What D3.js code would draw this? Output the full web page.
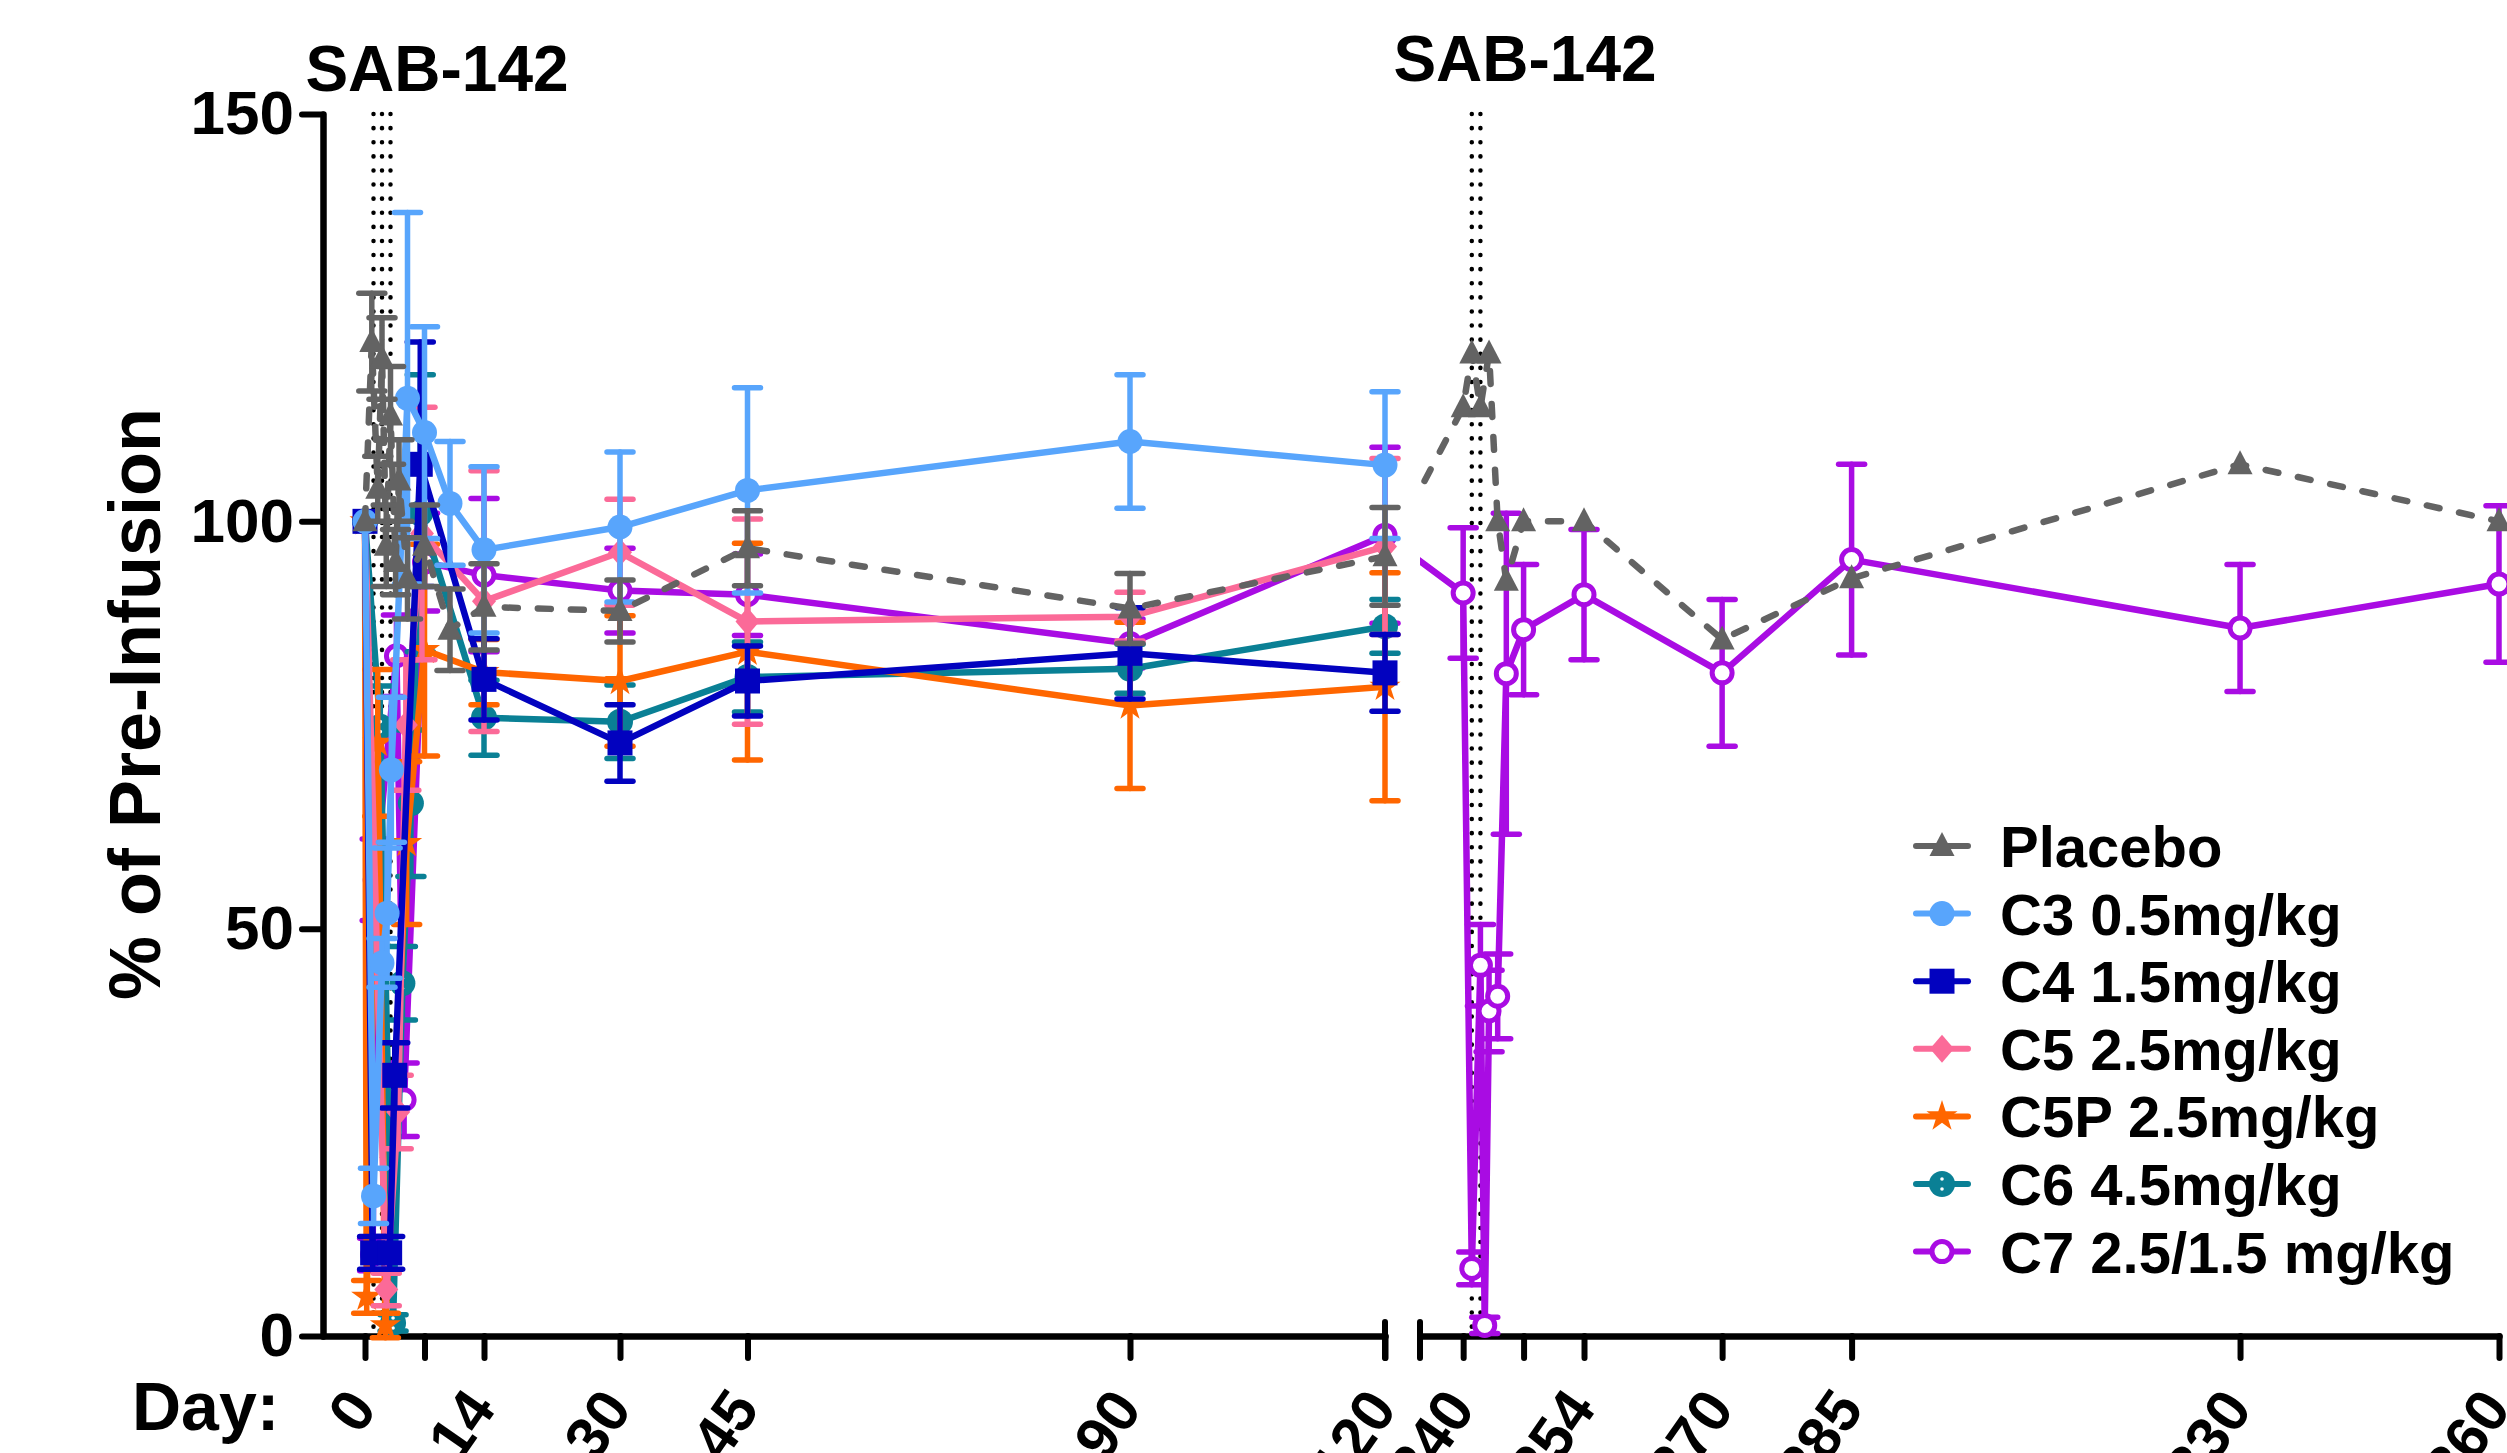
<!DOCTYPE html>
<html>
<head>
<meta charset="utf-8">
<script src="https://cdn.jsdelivr.net/npm/d3@7"></script>
<style>
body { margin: 0; background: #fff; }
svg { display: block; font-family: "Liberation Sans", Arial, sans-serif; font-weight: bold; }
</style>
</head>
<body>
<div id="main"></div>
<script>

var width = 2507,
    height = 1453;

// axis ticks
var yTicks = [0, 50, 100, 150];
var dayTicks1 = [0, 7, 14, 30, 45, 90, 120];
var dayTicks2 = [240, 247, 254, 270, 285, 330, 360];
var hiddenTicks = [7, 247];
var infusionDays = [1, 2, 3, 241, 242];

// series (days, % of pre-infusion, SEM)
var placeboDays = [0, 0.8, 1.5, 2, 2.5, 3, 3.6, 4, 5, 7, 10, 14, 30, 45, 90, 120, 240, 241, 242, 243, 244, 245, 247, 254, 270, 285, 330, 360];
var placeboVals = [100, 122, 104, 120, 97, 113, 95, 105, 93, 97, 86.7, 89.5, 89, 96.7, 89.3, 95.7, 114, 120.6, 114, 120.6, 100, 92.7, 100, 100, 85.5, 93, 107, 100];
var placeboSem  = [0, 6, 4, 5, 5, 6, 4, 5, 5, 5, 5, 5.3, 3.8, 4.6, 4.3, 6, 0, 0, 0, 0, 0, 0, 0, 0, 0, 0, 0, 0];

var c3Days = [0, 1, 2, 2.6, 3.1, 5, 7, 10, 14, 30, 45, 90, 120];
var c3Vals = [100, 17.2, 45.8, 51.9, 69.5, 115.1, 110.9, 102.2, 96.5, 99.3, 103.8, 109.8, 106.9];
var c3Sem  = [0, 3.4, 3, 8, 8.9, 22.8, 13, 7.6, 10.2, 9.2, 12.6, 8.2, 9];

var c4Days = [0, 0.9, 2.9, 3.5, 6.5, 14, 30, 45, 90, 120];
var c4Vals = [100, 10.2, 10.2, 32, 107, 80.6, 72.8, 80.4, 83.8, 81.4];
var c4Sem  = [0, 2, 2, 4, 15, 5, 4.7, 4.3, 5.6, 4.7];

var c5Days = [0, 2.5, 3.9, 4.8, 6.7, 14, 30, 45, 90, 120];
var c5Vals = [100, 5.7, 27.5, 75, 98.5, 90.2, 96.2, 87.7, 88.3, 96.9];
var c5Sem  = [0, 2, 4.5, 8, 15.5, 16, 6.5, 12.6, 3, 10.8];

var c5pDays = [0, 0.2, 1.5, 2.4, 4.9, 7, 14, 30, 45, 90, 120];
var c5pVals = [100, 4.8, 72.8, 1.3, 60.5, 84.2, 81.5, 80.4, 84, 77.4, 79.7];
var c5pSem  = [0, 2, 9, 1.5, 10, 13, 4, 8, 13.3, 10.2, 14];

var c6Days = [0, 1.8, 3.3, 4.4, 5.4, 6.5, 14, 30, 45, 90, 120];
var c6Vals = [100, 74.8, 1.6, 43.3, 65.4, 101, 75.9, 75.4, 80.9, 81.9, 87.1];
var c6Sem  = [0, 5, 1, 4.5, 9, 17, 4.6, 4.5, 4.3, 3, 3.3];

var c7Days = [0, 0.9, 1.2, 3.7, 4.6, 7, 14, 30, 45, 90, 120, 240, 241, 242, 242.5, 243, 244, 245, 247, 254, 270, 285, 330, 360];
var c7Vals = [100, 10, 56, 83.5, 29, 95, 93.4, 91.5, 91, 85, 98.3, 91.2, 8.3, 45.5, 1.3, 39.9, 41.7, 81.3, 86.7, 91, 81.4, 95.3, 86.9, 92.3];
var c7Sem  = [0, 2, 5, 5, 4.5, 6, 9.4, 5.2, 5, 3, 10.8, 8, 2, 5, 1, 5, 5.2, 19.7, 8, 8, 9, 11.7, 7.8, 9.6];

var seriesNames  = ["Placebo", "C3 0.5mg/kg", "C4 1.5mg/kg", "C5 2.5mg/kg", "C5P 2.5mg/kg", "C6 4.5mg/kg", "C7 2.5/1.5 mg/kg"];
var seriesColors = ["#636363", "#58a5fc", "#0202bf", "#fb6a98", "#ff6600", "#0a8095", "#a90ce3"];
var seriesShapes = ["triangle", "circle", "square", "diamond", "star", "circledot", "open"];

var series = [
    [placeboDays, placeboVals, placeboSem],
    [c3Days, c3Vals, c3Sem],
    [c4Days, c4Vals, c4Sem],
    [c5Days, c5Vals, c5Sem],
    [c5pDays, c5pVals, c5pSem],
    [c6Days, c6Vals, c6Sem],
    [c7Days, c7Vals, c7Sem]
].map(function(s, i) {
    return {
        name: seriesNames[i],
        color: seriesColors[i],
        shape: seriesShapes[i],
        dashed: i == 0,
        points: s[0].map(function(d, j) { return { day: d, val: s[1][j], sem: s[2][j] }; })
    };
});


var svg = d3.select("div#main")
    .append("svg")
    .attr("width", width)
    .attr("height", height);

svg.append("rect").attr("width", width).attr("height", height).attr("fill", "#fff");

// two pieces of the broken x axis
var x1 = d3.scaleLinear().domain([-5, 120]).range([322.5, 1385]);
var x2 = d3.scaleLinear().domain([235, 360]).range([1420, 2499]);
var y = d3.scaleLinear().domain([0, 150]).range([1336, 114]);

function xPos(day) {
    return day <= 120.5 ? x1(day) : x2(day);
}

// lines crossing the break are hidden inside the gap
var clip = svg.append("defs").append("clipPath").attr("id", "segs");
clip.append("rect").attr("x", 0).attr("y", 0).attr("width", 1387).attr("height", height);
clip.append("rect").attr("x", 1420).attr("y", 0).attr("width", width - 1420).attr("height", height);


// dotted infusion lines
svg.selectAll(".infusion")
    .data(infusionDays)
    .enter().append("line")
    .attr("class", "infusion")
    .attr("x1", function(d) { return xPos(d); })
    .attr("x2", function(d) { return xPos(d); })
    .attr("y1", y(150))
    .attr("y2", y(0))
    .attr("stroke", "#000")
    .attr("stroke-width", 4.5)
    .attr("stroke-linecap", "round")
    .attr("stroke-dasharray", "0.1 14");

svg.append("text").attr("x", 437).attr("y", 91).attr("text-anchor", "middle")
    .attr("font-size", 64).text("SAB-142");
svg.append("text").attr("x", 1525).attr("y", 81).attr("text-anchor", "middle")
    .attr("font-size", 64).text("SAB-142");


// axes
function styleAxis(g) {
    g.select(".domain").attr("stroke", "#000").attr("stroke-width", 6.5).attr("stroke-linecap", "round");
    g.selectAll(".tick line").attr("stroke", "#000").attr("stroke-width", 6).attr("stroke-linecap", "round");
    g.selectAll(".tick text").attr("fill", "#000").attr("font-family", null).attr("font-weight", "bold");
}

var gy = svg.append("g")
    .attr("transform", "translate(323,0)")
    .call(d3.axisLeft(y).tickValues(yTicks).tickSize(21).tickSizeOuter(0).tickPadding(8));
gy.attr("font-size", 62);
styleAxis(gy);

function dayAxis(scale, ticks) {
    var g = svg.append("g")
        .attr("transform", "translate(0,1336)")
        .call(d3.axisBottom(scale).tickValues(ticks).tickSize(22).tickSizeOuter(0)
              .tickFormat(function(d) { return hiddenTicks.indexOf(d) >= 0 ? "" : d; }));
    g.attr("font-size", 60);
    styleAxis(g);
    g.selectAll(".tick text")
        .attr("x", 0).attr("y", 0).attr("dy", 0)
        .attr("text-anchor", "end")
        .attr("transform", "translate(13,73) rotate(-55)");
    return g;
}

dayAxis(x1, dayTicks1);
dayAxis(x2, dayTicks2);

// break marks
svg.selectAll(".brk")
    .data([x1(120), 1420])
    .enter().append("line")
    .attr("class", "brk")
    .attr("x1", function(d) { return d; })
    .attr("x2", function(d) { return d; })
    .attr("y1", 1322)
    .attr("y2", 1358)
    .attr("stroke", "#000")
    .attr("stroke-width", 6)
    .attr("stroke-linecap", "round");

svg.append("text")
    .attr("transform", "translate(160,704) rotate(-90)")
    .attr("text-anchor", "middle")
    .attr("font-size", 72)
    .text("% of Pre-Infusion");

svg.append("text").attr("x", 132).attr("y", 1430).attr("font-size", 68).text("Day:");


// markers
function marker(g, shape, color) {
    if (shape == "triangle") {
        g.append("path").attr("d", "M0,-14L12.5,10L-12.5,10Z").attr("fill", color);
    } else if (shape == "circle") {
        g.append("circle").attr("r", 12.5).attr("fill", color);
    } else if (shape == "square") {
        g.append("rect").attr("x", -12.5).attr("y", -12.5).attr("width", 25).attr("height", 25).attr("fill", color);
    } else if (shape == "diamond") {
        g.append("path").attr("d", "M0,-14L12,0L0,14L-12,0Z").attr("fill", color);
    } else if (shape == "star") {
        g.append("path").attr("d", d3.symbol(d3.symbolStar, 300)()).attr("fill", color);
    } else if (shape == "circledot") {
        g.append("circle").attr("r", 13).attr("fill", color);
        g.append("circle").attr("cy", -5).attr("r", 1.8).attr("fill", "#fff");
        g.append("circle").attr("cy", 5).attr("r", 1.8).attr("fill", "#fff");
    } else {
        g.append("circle").attr("r", 10).attr("fill", "#fff")
            .attr("stroke", color).attr("stroke-width", 5);
    }
}

var line = d3.line()
    .x(function(d) { return xPos(d.day); })
    .y(function(d) { return y(d.val); });

// placebo drawn last, so it sits on top
var layers = series.slice().reverse();

var sg = svg.selectAll(".series")
    .data(layers)
    .enter().append("g")
    .attr("class", "series");

sg.append("path")
    .attr("d", function(d) { return line(d.points); })
    .attr("clip-path", "url(#segs)")
    .attr("fill", "none")
    .attr("stroke", function(d) { return d.color; })
    .attr("stroke-width", 6.5)
    .attr("stroke-linejoin", "round")
    .attr("stroke-linecap", function(d) { return d.dashed ? "round" : "butt"; })
    .attr("stroke-dasharray", function(d) { return d.dashed ? "13 20" : null; });

sg.each(function(s) {
    var g = d3.select(this);
    var bars = g.selectAll(".err")
        .data(s.points.filter(function(p) { return p.sem > 0; }))
        .enter().append("g")
        .attr("class", "err")
        .attr("stroke", s.color)
        .attr("stroke-width", 5.5)
        .attr("stroke-linecap", "round");
    bars.append("line")
        .attr("x1", function(p) { return xPos(p.day); })
        .attr("x2", function(p) { return xPos(p.day); })
        .attr("y1", function(p) { return y(p.val - p.sem); })
        .attr("y2", function(p) { return y(p.val + p.sem); });
    [-1, 1].forEach(function(sign) {
        bars.append("line")
            .attr("x1", function(p) { return xPos(p.day) - 13; })
            .attr("x2", function(p) { return xPos(p.day) + 13; })
            .attr("y1", function(p) { return y(p.val + sign * p.sem); })
            .attr("y2", function(p) { return y(p.val + sign * p.sem); });
    });
    g.selectAll(".pt")
        .data(s.points)
        .enter().append("g")
        .attr("class", "pt")
        .attr("transform", function(p) { return "translate(" + xPos(p.day) + "," + y(p.val) + ")"; })
        .each(function() { marker(d3.select(this), s.shape, s.color); });
});


// legend
var legend = svg.selectAll(".legend")
    .data(series)
    .enter().append("g")
    .attr("class", "legend")
    .attr("transform", function(d, i) { return "translate(1942," + (846 + i * 67.6) + ")"; });

legend.append("line")
    .attr("x1", -26).attr("x2", 26)
    .attr("stroke", function(d) { return d.color; })
    .attr("stroke-width", 6)
    .attr("stroke-linecap", "round");

legend.each(function(d) { marker(d3.select(this), d.shape, d.color); });

legend.append("text")
    .attr("x", 58)
    .attr("y", 21)
    .attr("font-size", 58)
    .text(function(d) { return d.name; });

</script>
</body>
</html>
